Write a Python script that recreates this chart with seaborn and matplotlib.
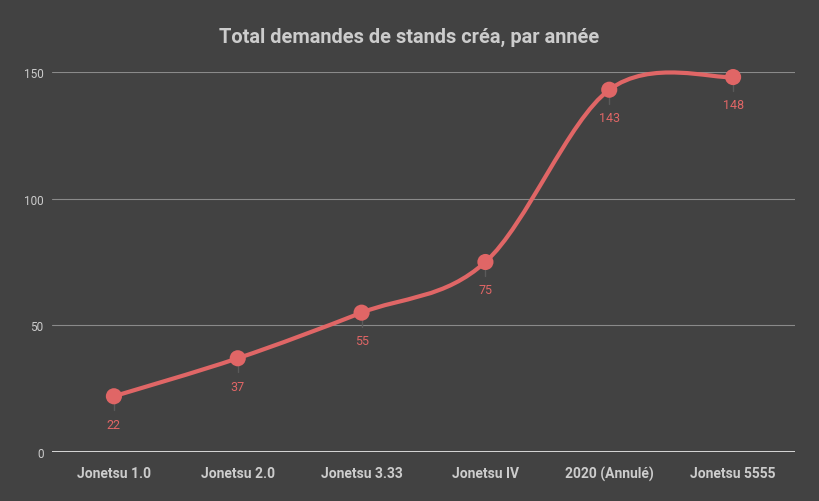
import matplotlib
matplotlib.use('Agg')
import matplotlib.pyplot as plt
from matplotlib.path import Path
from matplotlib.patches import PathPatch
import seaborn as sns
import pandas as pd

# data
categories = ['Jonetsu 1.0', 'Jonetsu 2.0', 'Jonetsu 3.33', 'Jonetsu IV', '2020 (Annulé)', 'Jonetsu 5555']
demandes = [22, 37, 55, 75, 143, 148]
yticks = [0, 50, 100, 150]

bg = '#424242'
red = '#e06666'
txt = '#cccccc'

sns.set_theme(style='dark')
plt.rcParams['font.family'] = ['Roboto', 'DejaVu Sans']

df = pd.DataFrame({'cat': categories, 'val': demandes})
df['x'] = range(len(df))

fig = plt.figure(figsize=(8.19, 5.02), dpi=100, facecolor=bg)
ax = fig.add_axes([52 / 819, 49 / 502, 743 / 819, 380 / 502])
ax.set_facecolor(bg)

# smooth curve (cubic bezier through the points)
xs = list(df['x'])
ys = list(df['val'])
n = len(xs)
verts = [(xs[0], ys[0])]
codes = [Path.MOVETO]
for i in range(n - 1):
    p0 = (xs[i - 1], ys[i - 1]) if i > 0 else (xs[i], ys[i])
    p1 = (xs[i], ys[i])
    p2 = (xs[i + 1], ys[i + 1])
    p3 = (xs[i + 2], ys[i + 2]) if i + 2 < n else p2
    c1 = (p1[0] + (p2[0] - p0[0]) / 6, p1[1] + (p2[1] - p0[1]) / 6)
    c2 = (p2[0] - (p3[0] - p1[0]) / 6, p2[1] - (p3[1] - p1[1]) / 6)
    verts += [c1, c2, p2]
    codes += [Path.CURVE4] * 3
ax.add_patch(PathPatch(Path(verts, codes), facecolor='none', edgecolor=red,
                       lw=3, clip_on=False, zorder=3))

sns.scatterplot(data=df, x='x', y='val', color=red, s=135, edgecolor='none',
                ax=ax, zorder=4, clip_on=False)

for x, v in zip(xs, ys):
    ax.plot([x, x], [v - 2.5, v - 5.5], color='#5a5a5a', lw=1, zorder=2)
    ax.annotate(str(v), (x, v), xytext=(0, -20), textcoords='offset points',
                ha='center', va='center', color=red, fontsize=9)

ax.set_xlim(-0.5, n - 0.5)
ax.set_ylim(0, 150)
ax.set_xticks(xs)
ax.set_xticklabels(categories, fontweight='bold', fontsize=10, color=txt)
ax.set_yticks(yticks)
ax.set_yticklabels([str(t) for t in yticks], fontsize=8.5, color=txt)
ax.tick_params(axis='both', length=0, pad=10)
ax.tick_params(axis='y', pad=6)
ax.grid(axis='y', color='#8a8a8a', lw=0.8)
ax.grid(axis='x', visible=False)
for s in ax.spines.values():
    s.set_visible(False)
ax.axhline(0, color='#f0f0f0', lw=1.2, zorder=2)
ax.set_xlabel('')
ax.set_ylabel('')

fig.suptitle('Total demandes de stands créa, par année', x=0.5, y=0.945,
             fontsize=14.4, fontweight='bold', color=txt)

fig.savefig('out.png', dpi=100, facecolor=bg)
